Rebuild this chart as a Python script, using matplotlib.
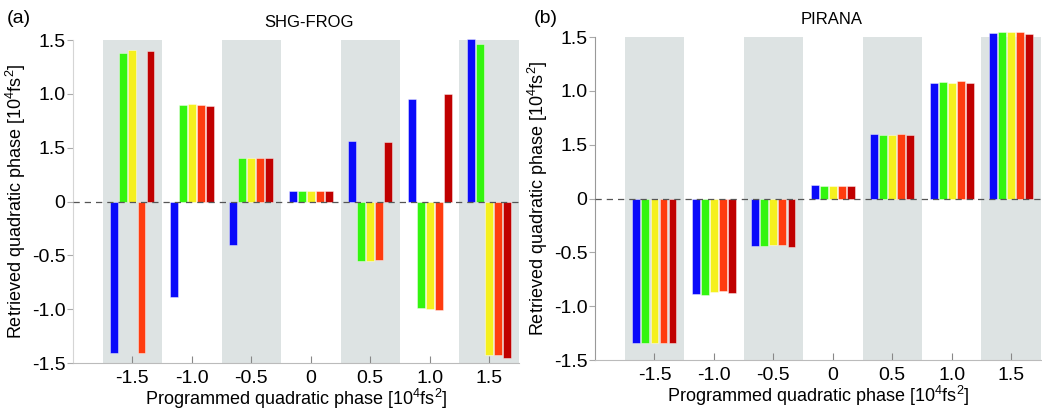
import matplotlib
matplotlib.use("Agg")
import matplotlib.pyplot as plt
import numpy as np

plt.rcParams['font.family'] = ['Liberation Sans', 'DejaVu Sans']
plt.rcParams['mathtext.fontset'] = 'custom'
plt.rcParams['mathtext.rm'] = 'Liberation Sans'
plt.rcParams['mathtext.it'] = 'Liberation Sans'

# programmed phase (10^4 fs^2)
programmed = [-1.5, -1.0, -0.5, 0.0, 0.5, 1.0, 1.5]
x_ticklabels = ['-1.5', '-1.0', '-0.5', '0', '0.5', '1.0', '1.5']
y_ticks = [-1.5, -1.0, -0.5, 0, 0.5, 1.0, 1.5]
y_ticklabels = ['-1.5', '-1.0', '-0.5', '0', '1.5', '1.0', '1.5']  # as printed in the figure

# retrieved phase, one row per programmed value, five retrievals each
shg_frog = [
    [-1.41, 1.38, 1.41, -1.41, 1.40],
    [-0.886, 0.893, 0.905, 0.896, 0.884],
    [-0.40, 0.403, 0.40, 0.409, 0.409],
    [0.097, 0.097, 0.097, 0.099, 0.099],
    [0.564, -0.553, -0.553, -0.544, 0.549],
    [0.955, -0.99, -0.997, -1.01, 0.995],
    [1.507, 1.464, -1.43, -1.43, -1.456],
]
pirana = [
    [-1.345, -1.345, -1.345, -1.345, -1.345],
    [-0.882, -0.891, -0.866, -0.860, -0.876],
    [-0.441, -0.438, -0.435, -0.432, -0.447],
    [0.127, 0.118, 0.118, 0.121, 0.118],
    [0.597, 0.591, 0.588, 0.600, 0.588],
    [1.076, 1.086, 1.070, 1.092, 1.076],
    [1.543, 1.550, 1.550, 1.547, 1.534],
]
colors = ['#0a0afa', '#33f50f', '#f5f01e', '#ff3c0f', '#c00000']

fig = plt.figure(figsize=(10.42, 4.13), dpi=100)
ax1 = fig.add_axes([0.070, 0.121, 0.428, 0.782])
ax2 = fig.add_axes([0.571, 0.128, 0.428, 0.782])

step = 0.076
width = 0.066
xlabel = r'Programmed quadratic phase [10$^4$fs$^2$]'
ylabel = r'Retrieved quadratic phase [10$^4$fs$^2$]'


def draw_panel(ax, data, title, left_spine_color):
    data = np.array(data)
    x = np.array(programmed)
    for k, p in enumerate(programmed):
        if k % 2 == 0:
            ax.axvspan(p - 0.25, p + 0.25, color='#dde3e3', lw=0, zorder=0)
    for j in range(data.shape[1]):
        ax.bar(x + (j - 2) * step, data[:, j], width=width, color=colors[j],
               edgecolor=(1, 1, 1, 0.5), linewidth=0.6, zorder=2, clip_on=False)
    ax.axhline(0, ls=(0, (5, 4)), color='#555555', lw=0.9, zorder=3)
    ax.set_xlim(-2.0, 1.75)
    ax.set_ylim(-1.5, 1.5)
    ax.set_xticks(programmed)
    ax.set_xticklabels(x_ticklabels)
    ax.set_yticks(y_ticks)
    ax.set_yticklabels(y_ticklabels)
    ax.tick_params(axis='x', direction='in', length=5, color='#888888',
                   labelsize=14, pad=5)
    ax.tick_params(axis='y', direction='out', length=4, color='#aaaaaa',
                   labelsize=14, pad=1.5)
    for s in ['top', 'right']:
        ax.spines[s].set_visible(False)
    ax.spines['bottom'].set_color('#bbbbbb')
    ax.spines['left'].set_color(left_spine_color)
    ax.set_xlabel(xlabel, fontsize=13, labelpad=0)
    ax.set_ylabel(ylabel, fontsize=13, labelpad=3)
    ax.text(0.53, 1.03, title, transform=ax.transAxes, ha='center',
            va='bottom', fontsize=12)


draw_panel(ax1, shg_frog, 'SHG-FROG', '#d5d5d5')
draw_panel(ax2, pirana, 'PIRANA', '#999999')

fig.text(0.006, 0.975, '(a)', fontsize=14, va='top')
fig.text(0.512, 0.975, '(b)', fontsize=14, va='top')

fig.savefig('out.png', dpi=100)
